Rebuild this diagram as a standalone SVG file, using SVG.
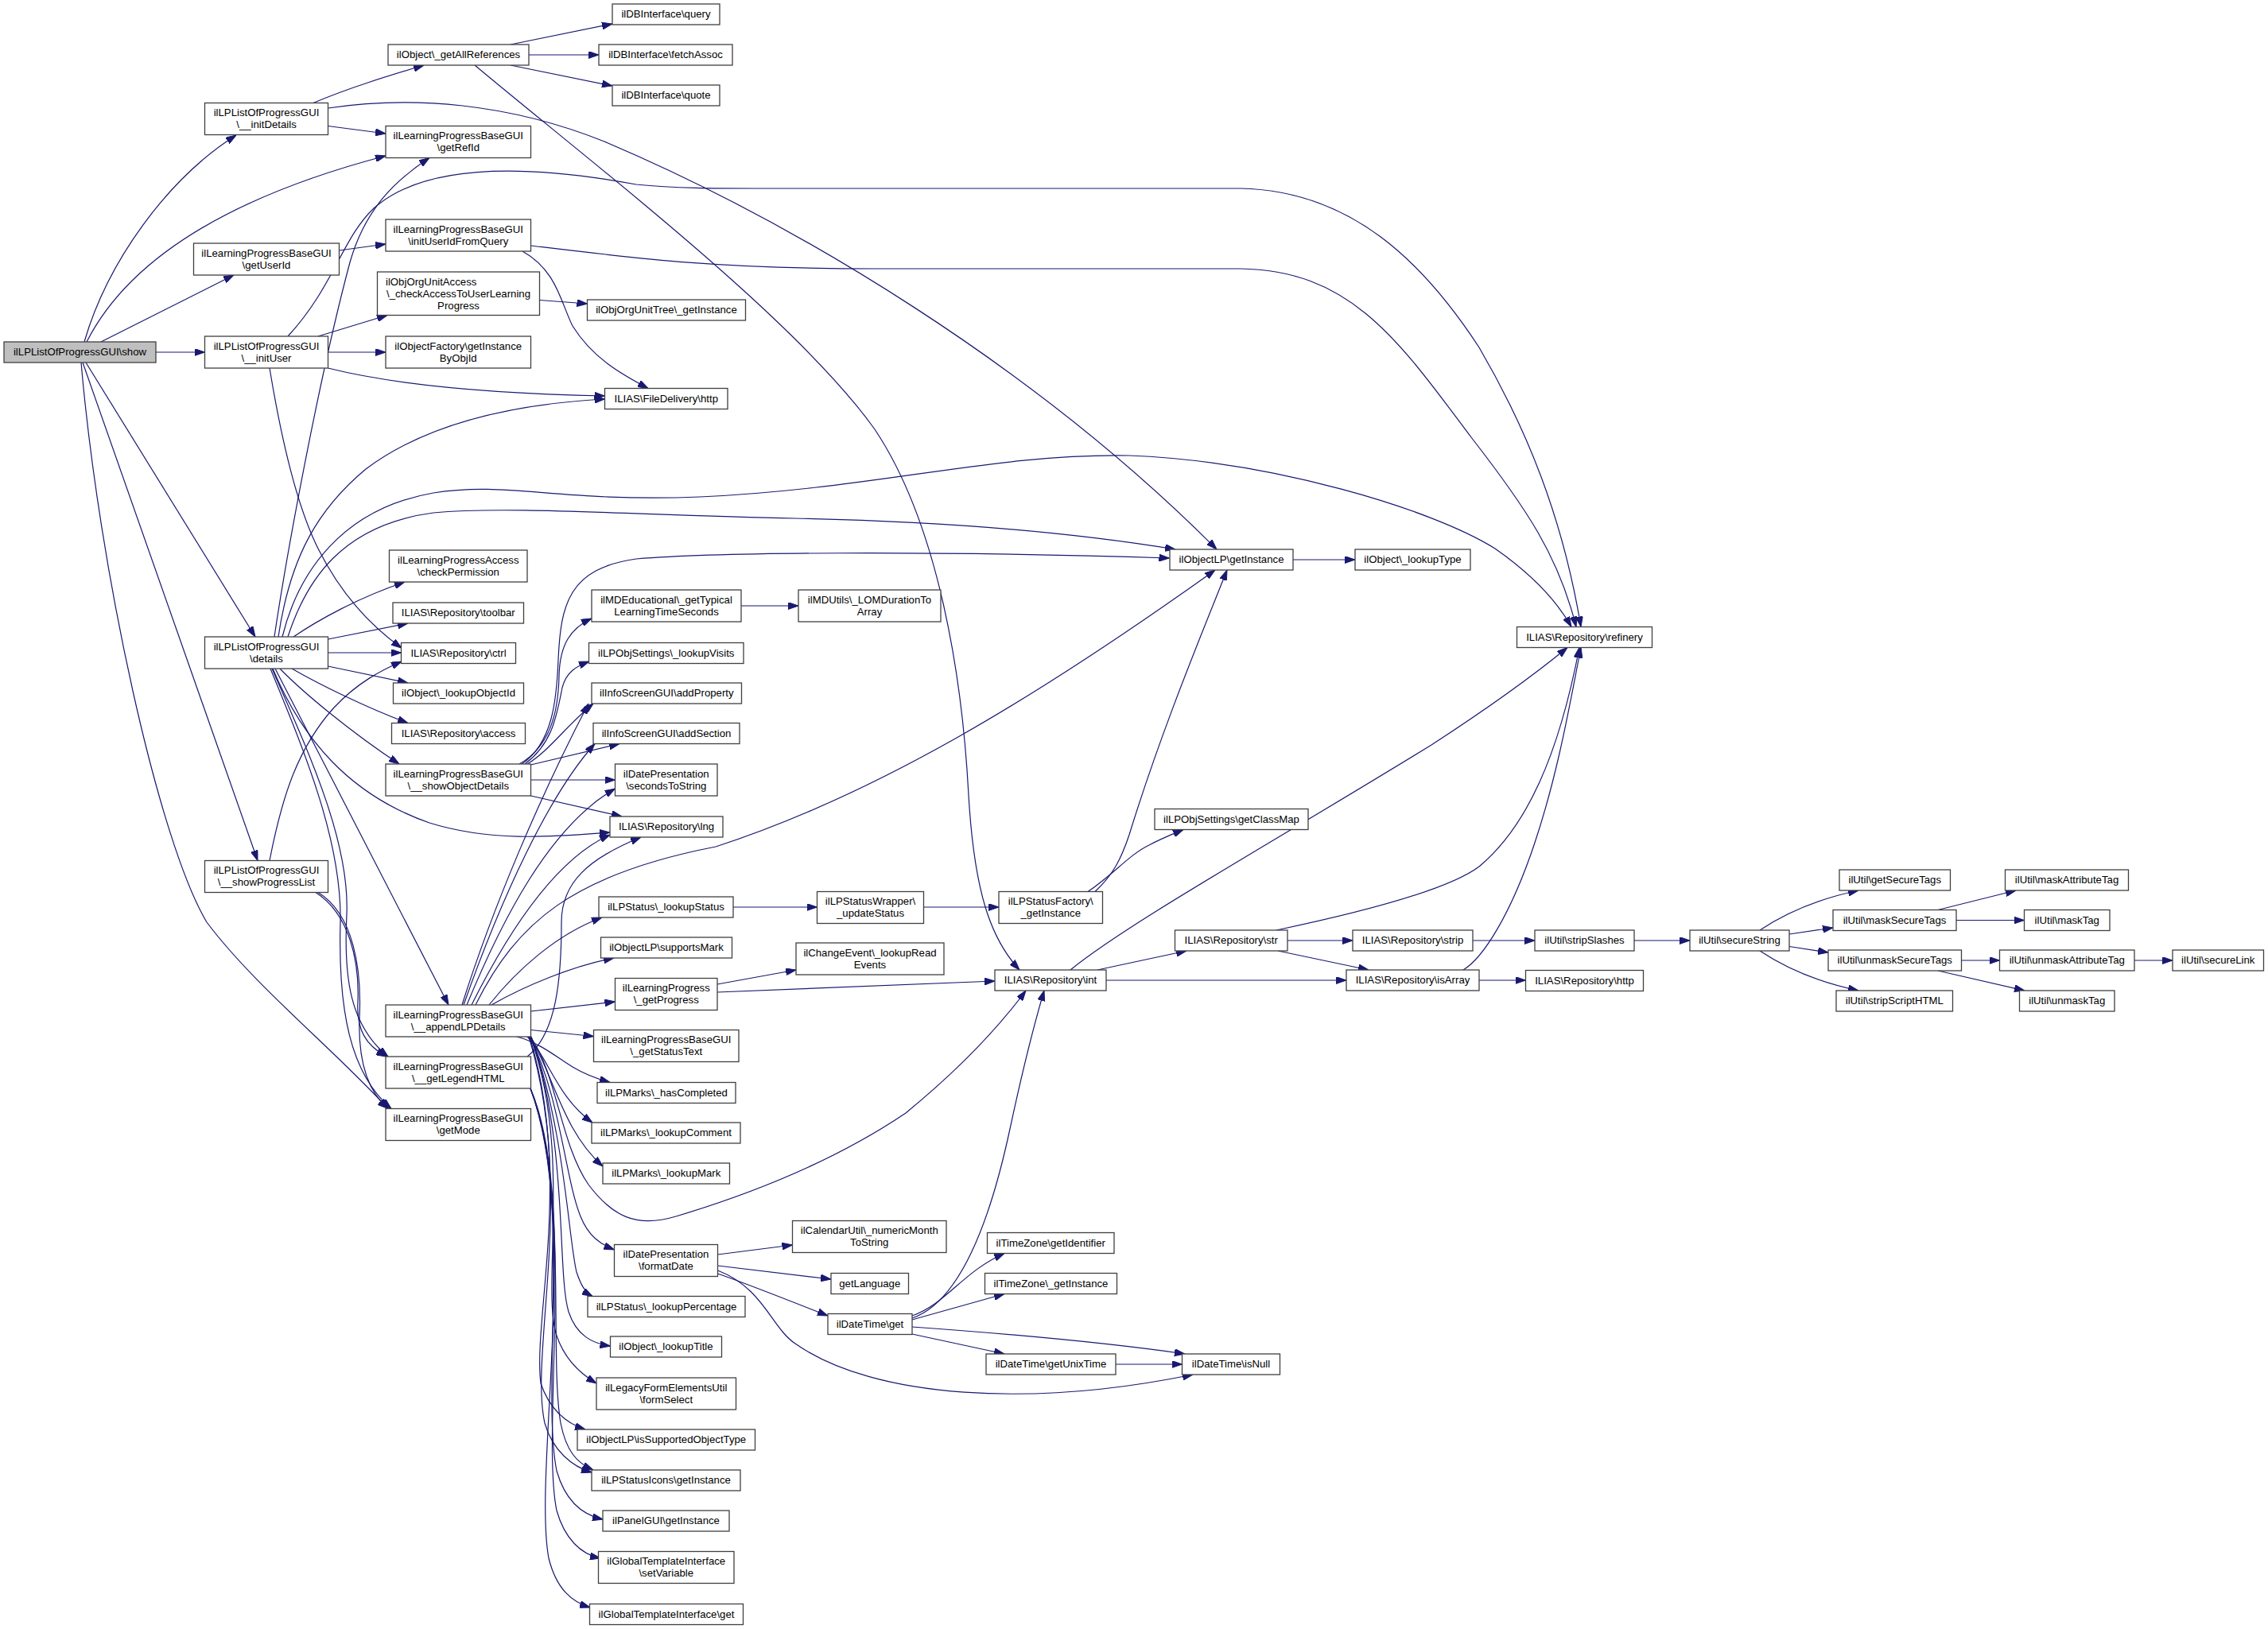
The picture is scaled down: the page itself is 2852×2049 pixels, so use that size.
<svg xmlns="http://www.w3.org/2000/svg" width="2852" height="2049" viewBox="0 0 2852 2049">
<defs>
<style>
.n rect{fill:#fff;stroke:#404040;stroke-width:1.3}
.n rect.r{fill:#bfbfbf}
text{font-family:'Liberation Sans',Arial,Helvetica,sans-serif;font-size:13.2px;fill:#000;text-anchor:middle}
text.l{text-anchor:start}
.e path{fill:none;stroke:#191970;stroke-width:1.2;marker-end:url(#ah)}
</style>
<marker id="ah" markerWidth="13" markerHeight="9" refX="13" refY="4.5" orient="auto" markerUnits="userSpaceOnUse"><path d="M0,0 L13,4.5 L0,9 z" fill="#191970" stroke="#191970" stroke-width="1"/></marker>
</defs>
<rect width="2852" height="2049" fill="#fff"/>
<g id="edges" class="e">
<path d="M106,430 C135,330 210,225 297,170"/>
<path d="M109,430 C160,330 280,250 485,196"/>
<path d="M127,430 L294,346"/>
<path d="M196,443 L257.5,443"/>
<path d="M108,456 L321,801"/>
<path d="M104,456 L324,1082.5"/>
<path d="M102,456 C125,720 200,1060 260,1160 C320,1240 420,1320 488,1394.5"/>
<path d="M394,129.5 C440,110 490,95 533,82"/>
<path d="M412.5,158.5 L485,168"/>
<path d="M412.5,136 C520,120 640,130 760,178 C1000,280 1300,460 1530,691"/>
<path d="M642,56 L770,30"/>
<path d="M665,69 L753,69"/>
<path d="M642,82 L770,108"/>
<path d="M597,82 C750,210 1000,400 1100,540 C1180,660 1210,850 1218,1000 C1225,1120 1245,1180 1282,1220"/>
<path d="M426.5,315 L485,307"/>
<path d="M657,316 C700,340 705,380 720,410 C745,450 780,470 815,488.5"/>
<path d="M667.5,309 C800,325 900,338 1100,338 L1560,338 C1700,340 1760,430 1850,550 C1920,640 1960,700 1982,788.5"/>
<path d="M400,423 L487,396.5"/>
<path d="M412.5,443 L485,443"/>
<path d="M412.5,463 C500,485 620,495 760.5,498"/>
<path d="M362,423 C420,360 430,300 470,262 C540,200 680,210 800,232 C850,237 900,237 950,237 L1560,237 C1700,240 1790,330 1860,437 C1920,540 1965,650 1988,788.5"/>
<path d="M339,463 C355,560 375,640 400,690 C430,750 470,790 505,815"/>
<path d="M678.5,377.5 L738.5,382"/>
<path d="M345,801 C360,700 400,480 440,330 C460,260 500,225 540,198.5"/>
<path d="M350,801 C365,700 400,640 460,590 C540,530 650,508 760.5,502"/>
<path d="M355,801 C375,720 430,640 545,620 C640,605 700,632 880,625 C1100,615 1250,570 1420,573 C1600,580 1800,640 1880,690 C1930,725 1960,760 1976,788.5"/>
<path d="M362,801 C385,730 430,660 545,645 C640,636 800,648 1000,652 C1200,656 1350,670 1478,691"/>
<path d="M369,801 C400,780 450,752 509,732"/>
<path d="M412.5,804 L513,784"/>
<path d="M412.5,821 L504.5,821"/>
<path d="M412.5,838 L513,859"/>
<path d="M367,841 C400,860 460,890 513,909.5"/>
<path d="M352,841 C380,870 440,920 502,961"/>
<path d="M343,841 C380,930 440,1000 540,1035 C620,1060 700,1052 767,1047"/>
<path d="M346,841 L564,1264"/>
<path d="M342,841 C390,950 440,1060 436,1150 C432,1230 440,1290 488,1329"/>
<path d="M340,841 C385,950 430,1060 428,1160 C425,1270 440,1350 492,1394.5"/>
<path d="M339,1082.5 C355,1000 375,940 420,890 C450,858 480,843 505,832"/>
<path d="M397,1122.5 C440,1150 452,1210 450,1260 C448,1295 460,1315 486,1329"/>
<path d="M400,1122.5 C445,1150 455,1220 452,1280 C450,1340 465,1375 488,1394.5"/>
<path d="M653,961 C690,940 702,900 703,850 C704,810 718,790 744,778"/>
<path d="M660,961 C695,935 700,900 707,865 C712,845 725,838 741,832"/>
<path d="M663,961 C690,945 710,915 746,885"/>
<path d="M667.5,962 L779,935.5"/>
<path d="M667.5,981 L773.5,981"/>
<path d="M667.5,1001 L782,1027"/>
<path d="M656,961 C695,935 700,880 702,830 C705,760 715,715 800,703 C900,695 1150,692 1470.5,702"/>
<path d="M581,1264 C620,1140 680,1000 740,885"/>
<path d="M583,1264 C630,1130 690,1000 748,935.5"/>
<path d="M587,1264 C630,1160 690,1040 773.5,992"/>
<path d="M593,1264 C640,1170 700,1080 767,1050"/>
<path d="M598,1264 C650,1160 720,1100 900,1065 C1100,1000 1300,880 1528,717"/>
<path d="M615,1264 C650,1220 700,1175 757,1154"/>
<path d="M618,1264 C660,1240 720,1215 772,1205"/>
<path d="M667.5,1272 L773.5,1260"/>
<path d="M667.5,1295.5 L746.5,1303.5"/>
<path d="M650,1304 C680,1312 700,1330 720,1342 C740,1354 755,1358 767,1361.5"/>
<path d="M663,1304 C690,1330 700,1380 745,1412"/>
<path d="M665,1304 C695,1345 705,1420 758,1467"/>
<path d="M667,1304 C700,1350 705,1440 740,1490 C770,1530 800,1545 850,1530 C950,1500 1050,1460 1139,1400 C1200,1350 1250,1300 1290,1246"/>
<path d="M666,1304 C705,1380 710,1480 730,1530 C740,1555 755,1565 772.5,1572"/>
<path d="M668,1304 C710,1420 715,1560 725,1600 C730,1615 735,1625 745,1630.5"/>
<path d="M668,1304 C715,1440 700,1600 715,1650 C725,1680 745,1690 767.5,1693"/>
<path d="M667,1304 C720,1450 680,1620 700,1680 C710,1710 730,1728 750,1740"/>
<path d="M666,1304 C720,1480 670,1660 680,1740 C690,1770 710,1790 736,1798"/>
<path d="M665,1304 C725,1500 665,1700 685,1790 C695,1825 720,1845 744,1852"/>
<path d="M667,1369 C715,1480 690,1700 705,1790 C712,1825 725,1840 746,1849"/>
<path d="M667,1369 C720,1500 680,1750 700,1850 C710,1885 730,1905 758,1911"/>
<path d="M667,1369 C725,1520 680,1800 700,1900 C710,1935 730,1955 755,1960"/>
<path d="M667,1369 C730,1540 670,1850 690,1960 C700,2000 720,2015 742,2022"/>
<path d="M663,1329 C700,1300 706,1230 706,1160 C706,1110 740,1080 806,1053"/>
<path d="M922,1141 L1027.5,1141"/>
<path d="M1161.5,1141 L1256,1141"/>
<path d="M1368,1121.5 C1400,1100 1420,1075 1445,1063 C1460,1055 1475,1049 1488,1043.5"/>
<path d="M1377,1121.5 C1400,1100 1410,1080 1420,1050 C1460,920 1510,800 1543,717"/>
<path d="M902,1238 L1001,1220"/>
<path d="M902,1248 L1251,1234"/>
<path d="M1380,1220 L1492,1196"/>
<path d="M1391,1233 L1693,1233"/>
<path d="M1346,1220 C1420,1160 1600,1060 1800,937 C1880,885 1940,840 1971,814.5"/>
<path d="M1619,1183 L1701,1183"/>
<path d="M1607,1196 L1721,1220"/>
<path d="M1605,1170 C1700,1150 1820,1120 1860,1090 C1920,1040 1960,950 1986,814.5"/>
<path d="M1852,1183 L1930,1183"/>
<path d="M1860,1233 L1918.5,1233"/>
<path d="M1840,1220 C1865,1205 1900,1150 1930,1060 C1960,970 1975,880 1988,814.5"/>
<path d="M2055,1183 L2125,1183"/>
<path d="M2213,1170 C2240,1152 2280,1132 2337,1120"/>
<path d="M2250,1175 L2305,1167"/>
<path d="M2250,1190.5 L2299,1198"/>
<path d="M2213,1196 C2240,1214 2280,1234 2337,1246"/>
<path d="M2437,1144.5 L2535,1120"/>
<path d="M2460,1157.5 L2545.5,1157.5"/>
<path d="M2466.5,1208 L2514.5,1208"/>
<path d="M2437,1221 L2546,1246"/>
<path d="M2684,1208 L2732,1208"/>
<path d="M1626,704 L1704,704"/>
<path d="M932,762 L1004,762"/>
<path d="M902.5,1578 L996.5,1566"/>
<path d="M902.5,1592 L1045,1609"/>
<path d="M902.5,1602 C940,1615 990,1635 1041,1655"/>
<path d="M902.5,1598 C960,1620 970,1670 1000,1690 C1100,1760 1300,1770 1500,1729"/>
<path d="M1147,1655 C1190,1640 1210,1600 1263,1576.5"/>
<path d="M1147,1660 L1263,1627.5"/>
<path d="M1147,1658 C1200,1640 1240,1560 1270,1420 C1285,1350 1300,1290 1313,1246"/>
<path d="M1147,1669 C1300,1680 1400,1690 1490,1703"/>
<path d="M1147,1678 L1263,1703"/>
<path d="M1403,1716 L1486.5,1716"/>
</g>
<g id="n_show" class="n"><rect class="r" x="5" y="430" width="191" height="26"/><text x="100.5" y="447">ilLPListOfProgressGUI\show</text></g>
<g id="n_initDetails" class="n"><rect x="257.5" y="129.5" width="155" height="40"/><text x="335" y="146">ilLPListOfProgressGUI</text><text x="335" y="161">\__initDetails</text></g>
<g id="n_getAllReferences" class="n"><rect x="488" y="56" width="177" height="26"/><text x="576.5" y="73">ilObject\_getAllReferences</text></g>
<g id="n_query" class="n"><rect x="770" y="5" width="135" height="26"/><text x="837.5" y="22">ilDBInterface\query</text></g>
<g id="n_fetchAssoc" class="n"><rect x="753" y="56" width="168" height="26"/><text x="837" y="73">ilDBInterface\fetchAssoc</text></g>
<g id="n_quote" class="n"><rect x="770" y="107" width="135" height="26"/><text x="837.5" y="124">ilDBInterface\quote</text></g>
<g id="n_getRefId" class="n"><rect x="485" y="158.5" width="182.5" height="40"/><text x="576.25" y="175">ilLearningProgressBaseGUI</text><text x="576.25" y="190">\getRefId</text></g>
<g id="n_getUserId" class="n"><rect x="243.5" y="306" width="183" height="40"/><text x="335" y="322.5">ilLearningProgressBaseGUI</text><text x="335" y="337.5">\getUserId</text></g>
<g id="n_initUserIdFromQuery" class="n"><rect x="485" y="276" width="182.5" height="40"/><text x="576.25" y="292.5">ilLearningProgressBaseGUI</text><text x="576.25" y="307.5">\initUserIdFromQuery</text></g>
<g id="n_checkAccess" class="n"><rect x="474.5" y="342" width="204" height="54.5"/><text class="l" x="485" y="358.5">ilObjOrgUnitAccess</text><text x="576.5" y="373.5">\_checkAccessToUserLearning</text><text x="576.5" y="388.5">Progress</text></g>
<g id="n_orgUnitTree" class="n"><rect x="738.5" y="377" width="199" height="26"/><text x="838" y="394">ilObjOrgUnitTree\_getInstance</text></g>
<g id="n_initUser" class="n"><rect x="257.5" y="423" width="155" height="40"/><text x="335" y="439.5">ilLPListOfProgressGUI</text><text x="335" y="454.5">\__initUser</text></g>
<g id="n_objectFactory" class="n"><rect x="485" y="423" width="182.5" height="40"/><text x="576.25" y="439.5">ilObjectFactory\getInstance</text><text x="576.25" y="454.5">ByObjId</text></g>
<g id="n_fdHttp" class="n"><rect x="760.5" y="488.5" width="154.5" height="26"/><text x="837.75" y="505.5">ILIAS\FileDelivery\http</text></g>
<g id="n_checkPermission" class="n"><rect x="489.5" y="692" width="173.5" height="40"/><text x="576.25" y="708.5">ilLearningProgressAccess</text><text x="576.25" y="723.5">\checkPermission</text></g>
<g id="n_toolbar" class="n"><rect x="494" y="758" width="164.5" height="26"/><text x="576.25" y="775">ILIAS\Repository\toolbar</text></g>
<g id="n_ctrl" class="n"><rect x="504.5" y="808.5" width="144" height="26"/><text x="576.5" y="825.5">ILIAS\Repository\ctrl</text></g>
<g id="n_details" class="n"><rect x="257.5" y="801" width="155" height="40"/><text x="335" y="817.5">ilLPListOfProgressGUI</text><text x="335" y="832.5">\details</text></g>
<g id="n_lookupObjectId" class="n"><rect x="494.5" y="859" width="164" height="26"/><text x="576.5" y="876">ilObject\_lookupObjectId</text></g>
<g id="n_access" class="n"><rect x="492.5" y="909.5" width="168" height="26"/><text x="576.5" y="926.5">ILIAS\Repository\access</text></g>
<g id="n_showObjectDetails" class="n"><rect x="485" y="961" width="182.5" height="40"/><text x="576.25" y="977.5">ilLearningProgressBaseGUI</text><text x="576.25" y="992.5">\__showObjectDetails</text></g>
<g id="n_showProgressList" class="n"><rect x="257.5" y="1082.5" width="155" height="40"/><text x="335" y="1099">ilLPListOfProgressGUI</text><text x="335" y="1114">\__showProgressList</text></g>
<g id="n_appendLPDetails" class="n"><rect x="485" y="1264" width="182.5" height="40"/><text x="576.25" y="1280.5">ilLearningProgressBaseGUI</text><text x="576.25" y="1295.5">\__appendLPDetails</text></g>
<g id="n_getLegendHTML" class="n"><rect x="485" y="1329" width="182.5" height="40"/><text x="576.25" y="1345.5">ilLearningProgressBaseGUI</text><text x="576.25" y="1360.5">\__getLegendHTML</text></g>
<g id="n_getMode" class="n"><rect x="485" y="1394.5" width="182.5" height="40"/><text x="576.25" y="1411">ilLearningProgressBaseGUI</text><text x="576.25" y="1426">\getMode</text></g>
<g id="n_mdEducational" class="n"><rect x="744" y="742" width="188" height="40"/><text x="838" y="758.5">ilMDEducational\_getTypical</text><text x="838" y="773.5">LearningTimeSeconds</text></g>
<g id="n_mdUtils" class="n"><rect x="1004" y="742" width="179" height="40"/><text x="1093.5" y="758.5">ilMDUtils\_LOMDurationTo</text><text x="1093.5" y="773.5">Array</text></g>
<g id="n_lookupVisits" class="n"><rect x="740.5" y="808.5" width="194.5" height="26"/><text x="837.75" y="825.5">ilLPObjSettings\_lookupVisits</text></g>
<g id="n_addProperty" class="n"><rect x="744" y="859" width="188.5" height="26"/><text x="838.25" y="876">ilInfoScreenGUI\addProperty</text></g>
<g id="n_addSection" class="n"><rect x="746" y="909.5" width="184" height="26"/><text x="838" y="926.5">ilInfoScreenGUI\addSection</text></g>
<g id="n_secondsToString" class="n"><rect x="773.5" y="961" width="128.5" height="40"/><text x="837.75" y="977.5">ilDatePresentation</text><text x="837.75" y="992.5">\secondsToString</text></g>
<g id="n_lng" class="n"><rect x="767" y="1027" width="142" height="26"/><text x="838" y="1044">ILIAS\Repository\lng</text></g>
<g id="n_lookupStatus" class="n"><rect x="753" y="1128" width="169" height="26"/><text x="837.5" y="1145">ilLPStatus\_lookupStatus</text></g>
<g id="n_supportsMark" class="n"><rect x="755.5" y="1179" width="165" height="26"/><text x="838" y="1196">ilObjectLP\supportsMark</text></g>
<g id="n_getProgress" class="n"><rect x="773.5" y="1230.5" width="128.5" height="40"/><text x="837.75" y="1247">ilLearningProgress</text><text x="837.75" y="1262">\_getProgress</text></g>
<g id="n_getStatusText" class="n"><rect x="746.5" y="1295.5" width="182.5" height="40"/><text x="837.75" y="1312">ilLearningProgressBaseGUI</text><text x="837.75" y="1327">\_getStatusText</text></g>
<g id="n_hasCompleted" class="n"><rect x="751" y="1361.5" width="174" height="26"/><text x="838" y="1378.5">ilLPMarks\_hasCompleted</text></g>
<g id="n_lookupComment" class="n"><rect x="744" y="1412" width="187" height="26"/><text x="837.5" y="1429">ilLPMarks\_lookupComment</text></g>
<g id="n_lookupMark" class="n"><rect x="758" y="1463" width="159.5" height="26"/><text x="837.75" y="1480">ilLPMarks\_lookupMark</text></g>
<g id="n_formatDate" class="n"><rect x="772.5" y="1565.5" width="130" height="40"/><text x="837.5" y="1582">ilDatePresentation</text><text x="837.5" y="1597">\formatDate</text></g>
<g id="n_numericMonth" class="n"><rect x="996.5" y="1535.5" width="193.5" height="40"/><text x="1093.25" y="1552">ilCalendarUtil\_numericMonth</text><text x="1093.25" y="1567">ToString</text></g>
<g id="n_getLanguage" class="n"><rect x="1045" y="1601.5" width="97.5" height="26"/><text x="1093.75" y="1618.5">getLanguage</text></g>
<g id="n_dtGet" class="n"><rect x="1041" y="1652.5" width="106" height="26"/><text x="1094" y="1669.5">ilDateTime\get</text></g>
<g id="n_lookupPercentage" class="n"><rect x="739" y="1630.5" width="198" height="26"/><text x="838" y="1647.5">ilLPStatus\_lookupPercentage</text></g>
<g id="n_lookupTitle" class="n"><rect x="767.5" y="1681" width="140" height="26"/><text x="837.5" y="1698">ilObject\_lookupTitle</text></g>
<g id="n_formSelect" class="n"><rect x="750" y="1733" width="175.5" height="40"/><text x="837.75" y="1749.5">ilLegacyFormElementsUtil</text><text x="837.75" y="1764.5">\formSelect</text></g>
<g id="n_isSupported" class="n"><rect x="726" y="1798" width="223.5" height="26"/><text x="837.75" y="1815">ilObjectLP\isSupportedObjectType</text></g>
<g id="n_statusIcons" class="n"><rect x="744" y="1849" width="187" height="26"/><text x="837.5" y="1866">ilLPStatusIcons\getInstance</text></g>
<g id="n_panelGUI" class="n"><rect x="758" y="1900" width="159" height="26"/><text x="837.5" y="1917">ilPanelGUI\getInstance</text></g>
<g id="n_setVariable" class="n"><rect x="752.5" y="1951.5" width="170.5" height="40"/><text x="837.75" y="1968">ilGlobalTemplateInterface</text><text x="837.75" y="1983">\setVariable</text></g>
<g id="n_tplGet" class="n"><rect x="741.5" y="2017.5" width="193" height="26"/><text x="838" y="2034.5">ilGlobalTemplateInterface\get</text></g>
<g id="n_tzIdentifier" class="n"><rect x="1241.5" y="1550.5" width="159.5" height="26"/><text x="1321.25" y="1567.5">ilTimeZone\getIdentifier</text></g>
<g id="n_tzInstance" class="n"><rect x="1238.5" y="1601.5" width="166" height="26"/><text x="1321.5" y="1618.5">ilTimeZone\_getInstance</text></g>
<g id="n_unixTime" class="n"><rect x="1240" y="1703" width="163" height="26"/><text x="1321.5" y="1720">ilDateTime\getUnixTime</text></g>
<g id="n_isNull" class="n"><rect x="1486.5" y="1703" width="123" height="26"/><text x="1548" y="1720">ilDateTime\isNull</text></g>
<g id="n_objectLPInstance" class="n"><rect x="1471" y="691" width="155" height="26"/><text x="1548.5" y="708">ilObjectLP\getInstance</text></g>
<g id="n_lookupType" class="n"><rect x="1704" y="691" width="145" height="26"/><text x="1776.5" y="708">ilObject\_lookupType</text></g>
<g id="n_classMap" class="n"><rect x="1452" y="1017.5" width="193" height="26"/><text x="1548.5" y="1034.5">ilLPObjSettings\getClassMap</text></g>
<g id="n_statusWrapper" class="n"><rect x="1027.5" y="1121.5" width="134" height="40"/><text x="1094.5" y="1138">ilLPStatusWrapper\</text><text x="1094.5" y="1153">_updateStatus</text></g>
<g id="n_statusFactory" class="n"><rect x="1256" y="1121.5" width="130.5" height="40"/><text x="1321.25" y="1138">ilLPStatusFactory\</text><text x="1321.25" y="1153">_getInstance</text></g>
<g id="n_changeEvent" class="n"><rect x="1001" y="1186" width="186" height="40"/><text x="1094" y="1202.5">ilChangeEvent\_lookupRead</text><text x="1094" y="1217.5">Events</text></g>
<g id="n_int" class="n"><rect x="1251" y="1220" width="140" height="26"/><text x="1321" y="1237">ILIAS\Repository\int</text></g>
<g id="n_str" class="n"><rect x="1477.5" y="1170" width="141.5" height="26"/><text x="1548.25" y="1187">ILIAS\Repository\str</text></g>
<g id="n_strip" class="n"><rect x="1701" y="1170" width="151" height="26"/><text x="1776.5" y="1187">ILIAS\Repository\strip</text></g>
<g id="n_isArray" class="n"><rect x="1693" y="1220" width="167" height="26"/><text x="1776.5" y="1237">ILIAS\Repository\isArray</text></g>
<g id="n_refinery" class="n"><rect x="1907.5" y="788.5" width="170" height="26"/><text x="1992.5" y="805.5">ILIAS\Repository\refinery</text></g>
<g id="n_stripSlashes" class="n"><rect x="1930" y="1170" width="125" height="26"/><text x="1992.5" y="1187">ilUtil\stripSlashes</text></g>
<g id="n_repoHttp" class="n"><rect x="1918.5" y="1220.5" width="148" height="26"/><text x="1992.5" y="1237.5">ILIAS\Repository\http</text></g>
<g id="n_secureString" class="n"><rect x="2125" y="1170" width="125" height="26"/><text x="2187.5" y="1187">ilUtil\secureString</text></g>
<g id="n_getSecureTags" class="n"><rect x="2313" y="1094" width="139.5" height="26"/><text x="2382.75" y="1111">ilUtil\getSecureTags</text></g>
<g id="n_maskSecureTags" class="n"><rect x="2305" y="1144.5" width="155" height="26"/><text x="2382.5" y="1161.5">ilUtil\maskSecureTags</text></g>
<g id="n_unmaskSecureTags" class="n"><rect x="2299" y="1195" width="167.5" height="26"/><text x="2382.75" y="1212">ilUtil\unmaskSecureTags</text></g>
<g id="n_stripScriptHTML" class="n"><rect x="2309" y="1246" width="146.5" height="26"/><text x="2382.25" y="1263">ilUtil\stripScriptHTML</text></g>
<g id="n_maskAttributeTag" class="n"><rect x="2521.5" y="1094" width="155" height="26"/><text x="2599" y="1111">ilUtil\maskAttributeTag</text></g>
<g id="n_maskTag" class="n"><rect x="2545.5" y="1144.5" width="107.5" height="26"/><text x="2599.25" y="1161.5">ilUtil\maskTag</text></g>
<g id="n_unmaskAttributeTag" class="n"><rect x="2514.5" y="1195" width="169.5" height="26"/><text x="2599.25" y="1212">ilUtil\unmaskAttributeTag</text></g>
<g id="n_secureLink" class="n"><rect x="2732" y="1195" width="114.5" height="26"/><text x="2789.25" y="1212">ilUtil\secureLink</text></g>
<g id="n_unmaskTag" class="n"><rect x="2539.5" y="1246" width="119.5" height="26"/><text x="2599.25" y="1263">ilUtil\unmaskTag</text></g>
</svg>
